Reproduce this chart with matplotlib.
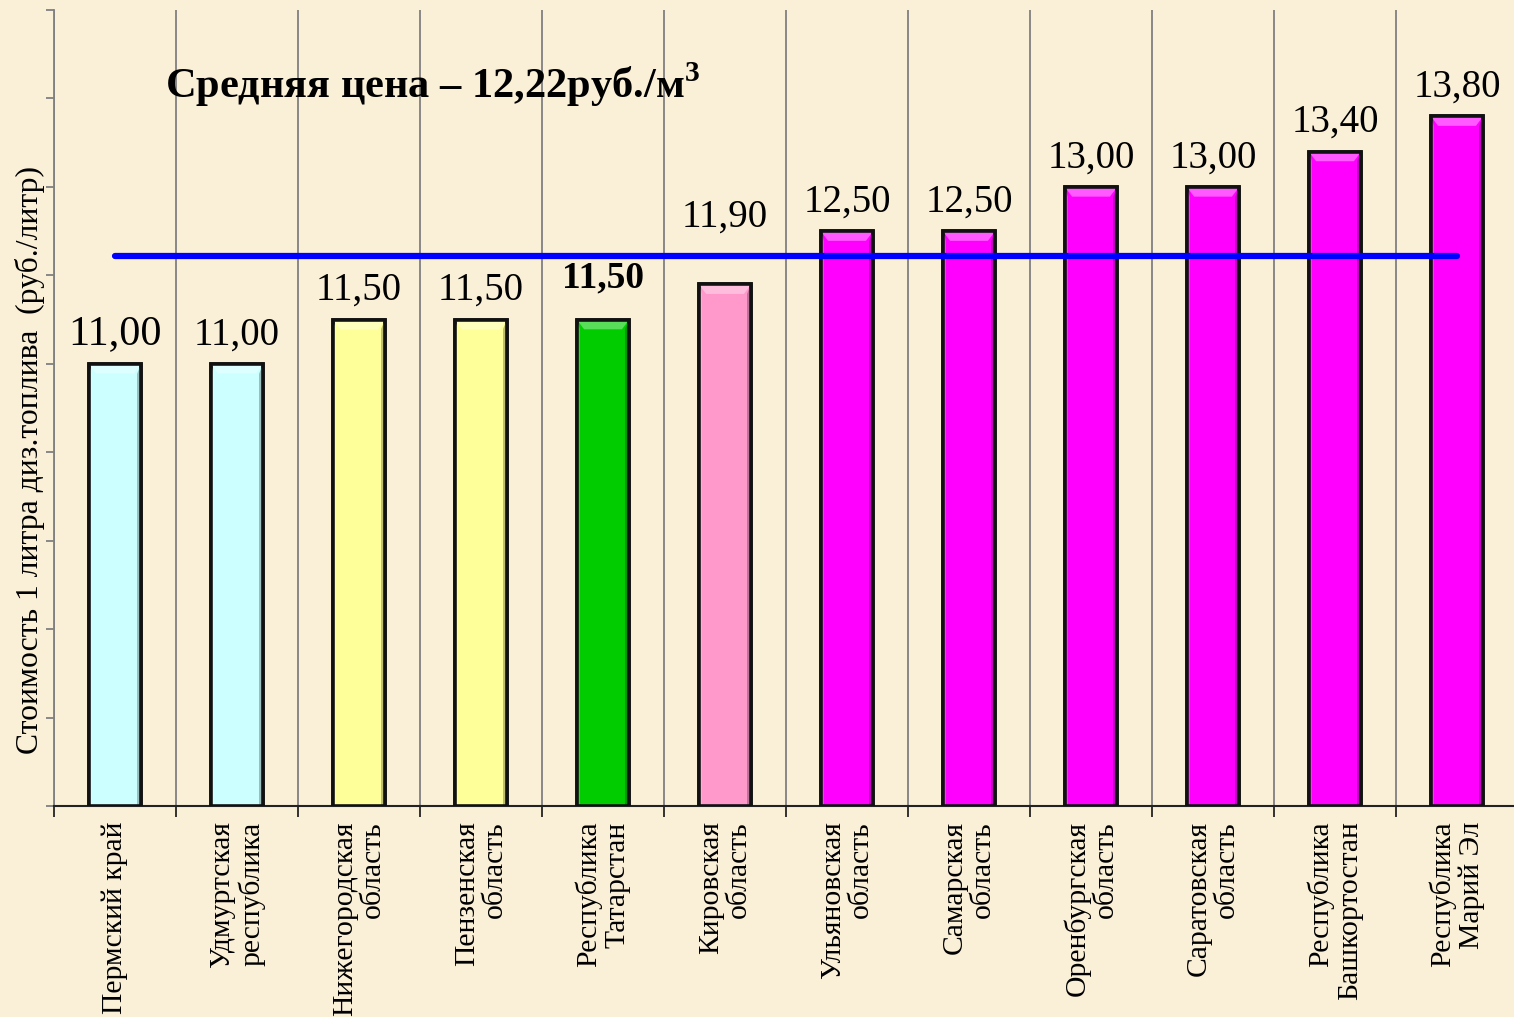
import matplotlib
matplotlib.use("Agg")
import matplotlib.pyplot as plt
from matplotlib.patches import Polygon
import matplotlib.colors as mcolors
import numpy as np

regions = ["Пермский край", "Удмуртская\nреспублика", "Нижегородская\nобласть",
           "Пензенская\nобласть", "Республика\nТатарстан", "Кировская\nобласть",
           "Ульяновская\nобласть", "Самарская\nобласть", "Оренбургская\nобласть",
           "Саратовская\nобласть", "Республика\nБашкортостан", "Республика\nМарий Эл"]
prices = [11.00, 11.00, 11.50, 11.50, 11.50, 11.90, 12.50, 12.50, 13.00, 13.00, 13.40, 13.80]
bar_colors = ["#CCFFFF", "#CCFFFF", "#FFFF99", "#FFFF99", "#00CC00", "#FF99CC",
              "#FF00FF", "#FF00FF", "#FF00FF", "#FF00FF", "#FF00FF", "#FF00FF"]
average = 12.22
title_text = "Средняя цена – 12,22руб./м$^\\mathregular{3}$"
ylabel_text = "Стоимость 1 литра диз.топлива  (руб./литр)"

plt.rcParams['font.family'] = ['Liberation Serif', 'DejaVu Serif']
plt.rcParams['mathtext.fontset'] = 'custom'
plt.rcParams['mathtext.rm'] = 'Liberation Serif'
plt.rcParams['mathtext.bf'] = 'Liberation Serif:bold'

bg = "#FAF0D8"
fig = plt.figure(figsize=(15.14, 10.17), dpi=100, facecolor=bg)
ax = fig.add_axes([54/1514, 211/1017, 1464/1514, 796/1017])
ax.set_facecolor(bg)

x = np.arange(len(prices))
bars = ax.bar(x, prices, width=0.43, bottom=0, color=bar_colors, edgecolor="#111111",
              linewidth=2.6, zorder=3)
ax.set_ylim(6, 15)
ax.set_xlim(-0.5, len(prices) - 0.5)


def mix(c, other, t):
    a = np.array(mcolors.to_rgb(c))
    b = np.array(mcolors.to_rgb(other))
    return tuple(a * (1 - t) + b * t)


# simple bevel shading derived from each bar's own geometry
for b, c in zip(bars, bar_colors):
    x0, w, top = b.get_x(), b.get_width(), b.get_height()
    x1 = x0 + w
    ix, iy = 0.06, 0.11
    ax.add_patch(Polygon([(x0, top), (x1, top), (x1 - ix, top - iy), (x0 + ix, top - iy)],
                         closed=True, facecolor=mix(c, "white", 0.35), edgecolor="none",
                         zorder=3.2))
    ax.add_patch(Polygon([(x1, top), (x1, 6), (x1 - ix * 0.6, 6), (x1 - ix * 0.6, top - iy)],
                         closed=True, facecolor=mix(c, "black", 0.25), edgecolor="none",
                         zorder=3.2))
    ax.add_patch(Polygon([(x0, top), (x0, 6), (x0 + ix * 0.5, 6), (x0 + ix * 0.5, top - iy)],
                         closed=True, facecolor=mix(c, "white", 0.2), edgecolor="none",
                         zorder=3.2))
    ax.add_patch(Polygon([(x0, top), (x1, top), (x1, 6), (x0, 6)], closed=True,
                         facecolor="none", edgecolor="#111111", linewidth=2.6, zorder=3.4))

# average line
ax.plot([0, len(prices) - 1], [average, average], color="#0000FF", lw=4.5,
        solid_capstyle="round", zorder=4)

# value labels
for i, v in enumerate(prices):
    s = f"{v:.2f}".replace(".", ",")
    size = 28
    weight = "normal"
    off = 0.12
    if i == 0:
        size = 30.5
    if i == 4:
        size = 27
        weight = "bold"
        off = 0.27
    if i == 5:
        off = 0.55
    ax.text(i, v + off, s, ha="center", va="bottom", fontsize=size,
            fontweight=weight, zorder=5)

# grid lines at category boundaries
ax.set_xticks(np.arange(-0.5, len(prices), 1.0), minor=True)
ax.set_xticks(x)
ax.set_xticklabels(regions, rotation=90, fontsize=21.3, va="top", ha="center",
                   multialignment="right", linespacing=1.12)
ax.grid(which="minor", axis="x", color="#808080", lw=1.3, zorder=1)
ax.tick_params(axis="x", which="major", length=0, pad=11)
ax.tick_params(axis="x", which="minor", length=8, width=1.3, color="#222222",
               direction="out")

ax.set_yticks(np.arange(6, 16, 1))
ax.set_yticklabels([])
ax.tick_params(axis="y", length=6, width=1.3, color="#808080", direction="out")

for s in ["top", "right"]:
    ax.spines[s].set_visible(False)
ax.spines["left"].set_color("#808080")
ax.spines["left"].set_linewidth(1.3)
ax.spines["bottom"].set_color("#222222")
ax.spines["bottom"].set_linewidth(1.5)

ax.set_ylabel(ylabel_text, fontsize=22.8)
ax.yaxis.set_label_coords(-0.006, 0.435)

fig.text(165/1514, 1 - 85/1017, title_text, fontsize=30.5, fontweight="bold",
         ha="left", va="center")

fig.savefig("out.png", dpi=100, facecolor=bg)
